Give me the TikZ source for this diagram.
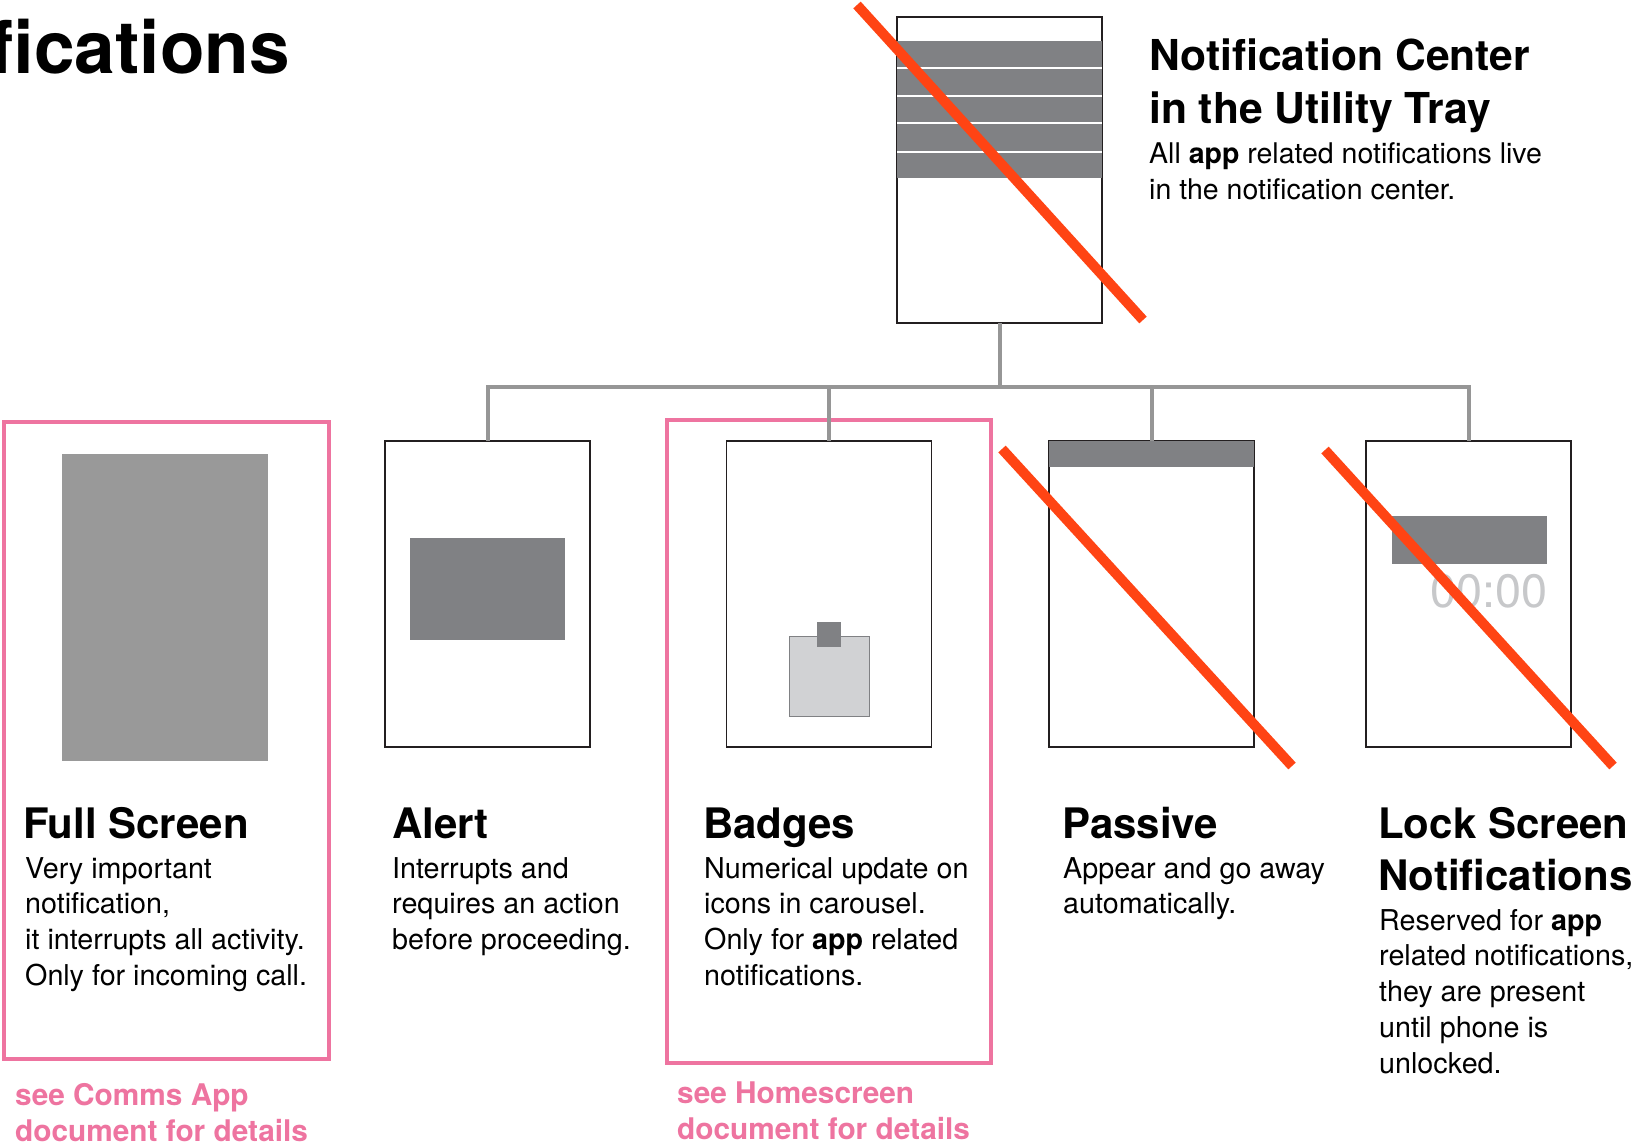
\documentclass[tikz,border=0pt]{standalone}
\usepackage{fontspec}
\setmainfont{TeX Gyre Heros}
\definecolor{framec}{RGB}{35,31,32}
\definecolor{darkc}{RGB}{128,129,132}
\definecolor{midc}{RGB}{153,153,153}
\definecolor{lightc}{RGB}{209,210,212}
\definecolor{connc}{RGB}{150,150,150}
\definecolor{pinkc}{RGB}{238,116,160}
\definecolor{strikec}{RGB}{255,68,20}
\definecolor{clockc}{RGB}{199,200,202}
\newcommand{\mylines}[1]{\begin{tabular}[t]{@{}l@{}}#1\end{tabular}}
\begin{document}
\begin{tikzpicture}[x=1pt,y=-1pt,
  phone/.style={draw=framec, line width=1.5pt, fill=white, minimum width=205pt, minimum height=306pt, inner sep=0pt, outer sep=0pt},
  conn/.style={draw=connc, line width=4pt},
  strike/.style={draw=strikec, line width=10pt},
  pinkbox/.style={draw=pinkc, line width=4pt, inner sep=0pt, outer sep=0pt},
  solid box/.style={fill=#1, inner sep=0pt, outer sep=0pt},
  ttl/.style={anchor=base west, inner sep=0pt, font=\fontsize{42}{52}\selectfont\bfseries},
  body/.style={anchor=base west, inner sep=0pt, font=\fontsize{28.7}{35.8}\selectfont},
  seetxt/.style={anchor=base west, inner sep=0pt, text=pinkc, font=\fontsize{29.8}{36.5}\selectfont\bfseries}]
\useasboundingbox (0,0) rectangle (1634,1144);
\fill[white] (0,0) rectangle (1634,1144);

% page title
\node[anchor=base east, inner sep=0pt, font=\fontsize{73}{80}\selectfont\bfseries] (title) at (290,73) {fications};

% notification center
\node[phone] (nc) at (999.5,170) {};
\fill[darkc] (897,41) rectangle (1102,178);
\foreach \yy in {68,96,123,152} \draw[white, line width=2.5pt] (897,\yy) -- (1102,\yy);
\node[ttl, font=\fontsize{42.6}{52.5}\selectfont\bfseries] (nct) at (1149,70.5) {\mylines{Notification Center\\in the Utility Tray}};
\node[body, font=\fontsize{28.5}{36}\selectfont] (ncb) at (1149,163) {\mylines{All \textbf{app} related notifications live\\in the notification center.}};

% pink frames
\node[pinkbox, minimum width=325pt, minimum height=637pt] (pk1) at (166.5,740.5) {};
\node[pinkbox, minimum width=324pt, minimum height=643pt] (pk2) at (829,741.5) {};

% full screen
\node[solid box=midc, minimum width=206pt, minimum height=307pt] (fs) at (165,607.5) {};

% phones
\node[phone] (alert) at (487.5,594) {};
\node[phone] (badges) at (829,594) {};
\node[phone] (passive) at (1151.5,594) {};
\node[phone] (lock) at (1468.5,594) {};

% phone contents
\node[solid box=darkc, minimum width=155pt, minimum height=102pt] (alertbox) at (487.5,589) {};
\node[draw=darkc, line width=1pt, fill=lightc, minimum width=80pt, minimum height=80pt, inner sep=0pt, outer sep=0pt] (bgicon) at (829,676) {};
\node[solid box=darkc, minimum width=24pt, minimum height=25pt] (bgbadge) at (829,634.5) {};
\node[solid box=darkc, minimum width=205pt, minimum height=26pt, anchor=north] (pbar) at (passive.north) {};
\node[solid box=darkc, minimum width=155pt, minimum height=48pt] (lockbox) at (1469.5,540) {};
\node[anchor=base east, inner sep=0pt, text=clockc, font=\fontsize{46.8}{50}\selectfont] (clock) at (1548,607) {00:00};

% connectors
\coordinate (bus) at (0,387);
\draw[conn] (nc.south) -- (nc.south |- bus);
\draw[conn, line cap=rect] (alert.north |- bus) -- (lock.north |- bus);
\foreach \n in {alert,badges,passive,lock} \draw[conn] (\n.north |- bus) -- (\n.north);

% strikes
\draw[strike] (857,5) -- (1143,320);
\draw[strike] (1002,449) -- (1292,766);
\draw[strike] (1325,450) -- (1613,766);

% labels
\node[ttl] (fst) at (23,838) {Full Screen};
\node[body] (fsb) at (25,878) {\mylines{Very important\\notification,\\it interrupts all activity.\\Only for incoming call.}};
\node[ttl] (alt) at (392,838) {Alert};
\node[body] (alb) at (392,878) {\mylines{Interrupts and\\requires an action\\before proceeding.}};
\node[ttl] (bgt) at (703,838) {Badges};
\node[body] (bgb) at (704,878) {\mylines{Numerical update on\\icons in carousel.\\Only for \textbf{app} related\\notifications.}};
\node[ttl] (pst) at (1062,838) {Passive};
\node[body] (psb) at (1063,878) {\mylines{Appear and go away\\automatically.}};
\node[ttl] (lkt) at (1378,838) {\mylines{Lock Screen\\Notifications}};
\node[body] (lkb) at (1379,930) {\mylines{Reserved for \textbf{app}\\related notifications,\\they are present\\until phone is\\unlocked.}};

\node[seetxt] (see1) at (15,1105) {\mylines{see Comms App\\document for details}};
\node[seetxt, font=\fontsize{29.8}{36}\selectfont\bfseries] (see2) at (677,1103) {\mylines{see Homescreen\\document for details}};
\end{tikzpicture}
\end{document}
